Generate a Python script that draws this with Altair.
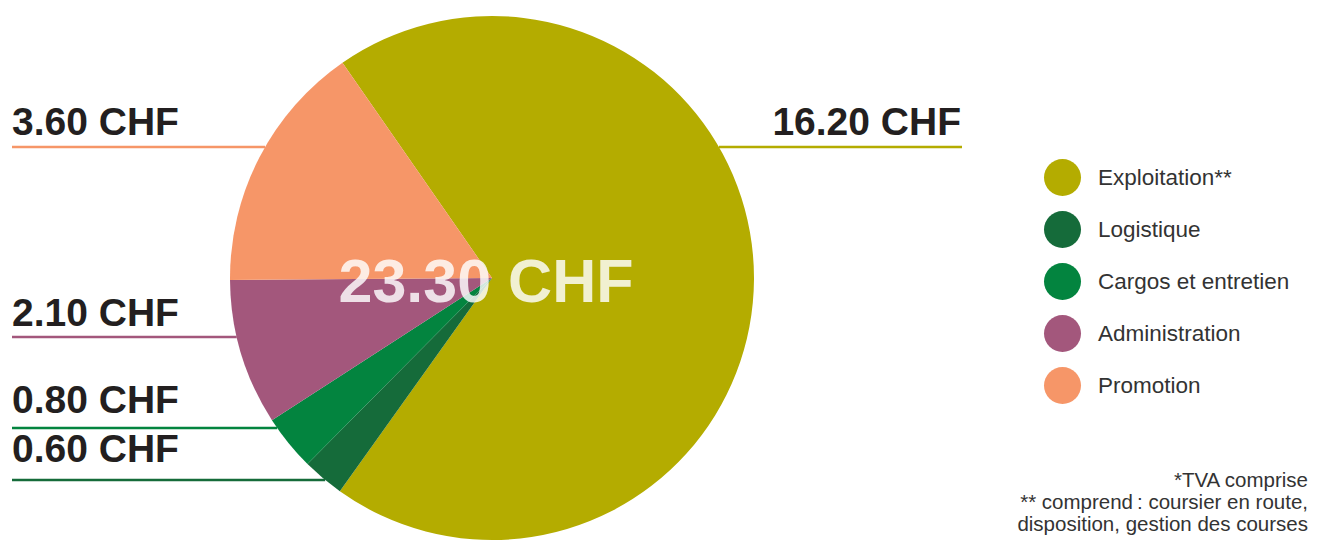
import math
import altair as alt
import pandas as pd

# ---- data ----
categories = ["Exploitation**", "Logistique", "Cargos et entretien", "Administration", "Promotion"]
values = [16.20, 0.60, 0.80, 2.10, 3.60]
colors = ["#b4ac00", "#156b3a", "#03843f", "#a3577c", "#f69668"]
label_texts = ["16.20 CHF", "0.60 CHF", "0.80 CHF", "2.10 CHF", "3.60 CHF"]
total_text = "23.30 CHF"
notes = ["*TVA comprise", "** comprend\u202f: coursier en route,", "disposition, gestion des courses"]

# ---- layout (chart pixel coordinates; chart origin = page (8,8)) ----
W, H = 1301, 540
CX, CY, R = 484, 270, 262
START_DEG = 325.2  # where the first slice starts (clockwise from 12 o'clock)
label_x = [953, 4, 4, 4, 4]
label_align = ["right", "left", "left", "left", "left"]
label_baseline_y = [127, 454, 405, 318, 127]
line_y = [139, 472, 420, 329, 139]
line_x_outer = [954, 4, 4, 4, 4]

FONT = "Liberation Sans"

df = pd.DataFrame({
    "category": categories,
    "value": values,
    "order": list(range(len(categories))),
})

start = math.radians(START_DEG)
color_scale = alt.Scale(domain=categories, range=colors)
legend = alt.Legend(
    title=None,
    orient="none",
    legendX=1036,
    legendY=151,
    symbolType="circle",
    symbolSize=1369,
    symbolStrokeWidth=0,
    symbolOpacity=1,
    labelFont=FONT,
    labelFontSize=22.5,
    labelColor="#333333",
    labelOffset=17,
    labelLimit=400,
    rowPadding=15,
    padding=0,
)

pie = alt.Chart(df).mark_arc(outerRadius=R).encode(
    theta=alt.Theta("value:Q", stack=True, scale=alt.Scale(range=[start, start + 2 * math.pi])),
    color=alt.Color("category:N", scale=color_scale, sort=categories, legend=legend),
    order=alt.Order("order:Q"),
    x=alt.value(CX),
    y=alt.value(CY),
)

# leader lines: from the outer x to the pie edge
lines_rows = []
for i, cat in enumerate(categories):
    dy = line_y[i] - CY
    dx = math.sqrt(max(R * R - dy * dy, 0))
    inner = CX + dx if label_align[i] == "right" else CX - dx
    lines_rows.append({"category": cat, "x": line_x_outer[i], "x2": inner, "y": line_y[i]})
lines_df = pd.DataFrame(lines_rows)

lines = alt.Chart(lines_df).mark_rule(strokeWidth=2.5).encode(
    x=alt.X("x:Q", scale=None),
    x2="x2:Q",
    y=alt.Y("y:Q", scale=None),
    color=alt.Color("category:N", scale=color_scale, sort=categories, legend=legend),
)

lab_df = pd.DataFrame({
    "text": label_texts,
    "x": label_x,
    "y": label_baseline_y,
    "align": label_align,
})
labels_left = alt.Chart(lab_df[lab_df["align"] == "left"]).mark_text(
    font=FONT, fontSize=39, fontWeight="bold", color="#231f20", align="left", baseline="alphabetic"
).encode(x=alt.X("x:Q", scale=None), y=alt.Y("y:Q", scale=None), text="text:N")
labels_right = alt.Chart(lab_df[lab_df["align"] == "right"]).mark_text(
    font=FONT, fontSize=39, fontWeight="bold", color="#231f20", align="right", baseline="alphabetic"
).encode(x=alt.X("x:Q", scale=None), y=alt.Y("y:Q", scale=None), text="text:N")

center = alt.Chart(pd.DataFrame({"text": [total_text], "x": [CX - 6], "y": [CY + 24]})).mark_text(
    font=FONT, fontSize=61, fontWeight="bold", color="#ffffff", opacity=0.82,
    align="center", baseline="alphabetic"
).encode(x=alt.X("x:Q", scale=None), y=alt.Y("y:Q", scale=None), text="text:N")

notes_df = pd.DataFrame({"text": notes, "x": [1300] * 3, "y": [479, 501, 523]})
notes_layer = alt.Chart(notes_df).mark_text(
    font=FONT, fontSize=20.5, color="#333333", align="right", baseline="alphabetic"
).encode(x=alt.X("x:Q", scale=None), y=alt.Y("y:Q", scale=None), text="text:N")

chart = alt.layer(lines, pie, labels_left, labels_right, center, notes_layer).properties(
    width=W, height=H, padding=0, autosize=alt.AutoSizeParams(type="none")
).configure_view(stroke=None)

chart.save("out.html", embed_options={"renderer": "svg", "actions": False})
